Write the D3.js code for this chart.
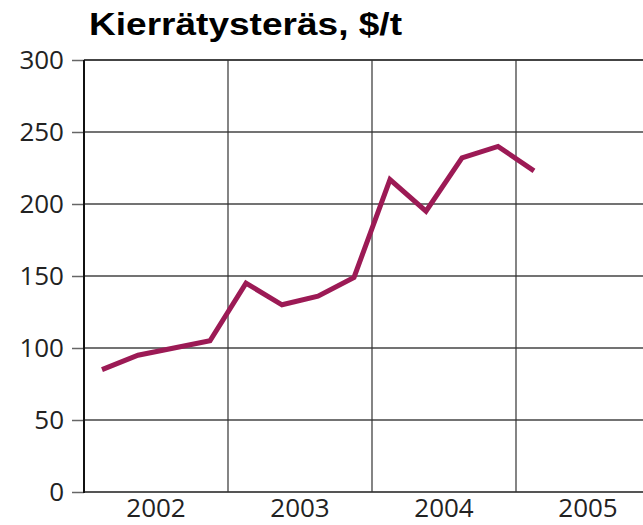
<!DOCTYPE html>
<html>
<head>
<meta charset="utf-8">
<script src="https://cdn.jsdelivr.net/npm/d3@7"></script>
<style>
  body { margin: 0; background: #fff; }
</style>
</head>
<body>
<div id="chart"></div>
<script>
var width = 643;
var height = 525;

// quarterly prices, 2002 Q1 .. 2005 Q1
const quarters = [
  "2002Q1","2002Q2","2002Q3","2002Q4",
  "2003Q1","2003Q2","2003Q3","2003Q4",
  "2004Q1","2004Q2","2004Q3","2004Q4",
  "2005Q1"
];
const prices = [85, 95, 100, 105, 145, 130, 136, 149, 217, 195, 232, 240, 223];
const years = [2002, 2003, 2004, 2005];
const yTicks = [0, 50, 100, 150, 200, 250, 300];

const title = "Kierrätysteräs, $/t";

// year + quarter midpoint as a number
function qTime(q) {
  return +q.slice(0, 4) + (+q.slice(5) - 0.5) / 4;
}

var x = d3.scaleLinear().domain([2002, 2006]).range([84, 660]);
var y = d3.scaleLinear().domain([0, 300]).range([492, 60]);

let svg = d3.select("#chart")
  .append("svg")
  .attr("width", width)
  .attr("height", height);

// horizontal grid
svg.append("g")
  .selectAll("line")
  .data(yTicks)
  .enter().append("line")
  .attr("x1", 84)
  .attr("x2", width)
  .attr("y1", d => y(d))
  .attr("y2", d => y(d))
  .attr("stroke", d => d === 0 ? "#555" : "#444")
  .attr("stroke-width", d => (d === 0 || d === 300) ? 2 : 1.3);

// vertical grid at year boundaries
svg.append("g")
  .selectAll("line")
  .data(years.slice(1))
  .enter().append("line")
  .attr("x1", d => x(d))
  .attr("x2", d => x(d))
  .attr("y1", y(300))
  .attr("y2", y(0))
  .attr("stroke", "#333")
  .attr("stroke-width", 1.2);

// y axis
var yAxis = d3.axisLeft(y)
  .tickValues(yTicks)
  .tickSize(12)
  .tickPadding(8);

var ya = svg.append("g")
  .attr("transform", "translate(84,0)")
  .call(yAxis);
ya.select(".domain").remove();
ya.selectAll(".tick line").attr("stroke", "#666").attr("stroke-width", 1.5);
ya.selectAll(".tick text")
  .attr("font-family", "'Open Sans', sans-serif")
  .attr("font-size", 26)
  .attr("fill", "#222");

svg.append("line")
  .attr("x1", 84).attr("x2", 84)
  .attr("y1", y(300)).attr("y2", y(0) + 1)
  .attr("stroke", "#111")
  .attr("stroke-width", 2);

// year labels, centred in each year
svg.append("g")
  .selectAll("text")
  .data(years)
  .enter().append("text")
  .attr("x", d => x(d + 0.5))
  .attr("y", 517)
  .attr("text-anchor", "middle")
  .attr("font-family", "'Open Sans', sans-serif")
  .attr("font-size", 26)
  .attr("fill", "#222")
  .text(d => d);

// price line
var line = d3.line()
  .x((d, i) => x(qTime(quarters[i])))
  .y(d => y(d));

svg.append("path")
  .datum(prices)
  .attr("d", line)
  .attr("fill", "none")
  .attr("stroke", "#9c1a55")
  .attr("stroke-width", 5)
  .attr("stroke-linejoin", "miter");

svg.append("text")
  .attr("x", 89)
  .attr("y", 35)
  .attr("font-family", "'Liberation Sans', Arial, sans-serif")
  .attr("font-weight", "bold")
  .attr("font-size", 31)
  .attr("textLength", 313)
  .attr("lengthAdjust", "spacingAndGlyphs")
  .attr("fill", "#000")
  .text(title);
</script>
</body>
</html>
